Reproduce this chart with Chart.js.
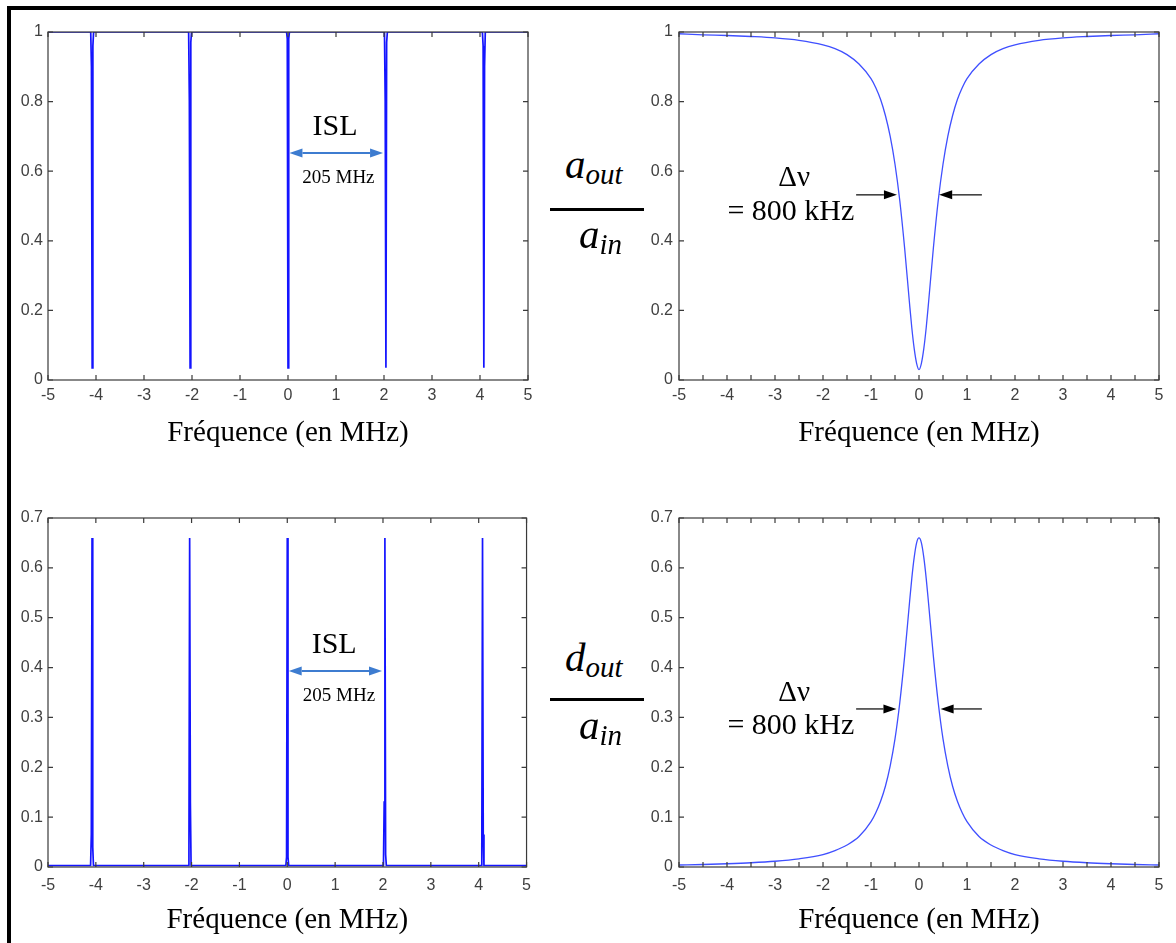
<!DOCTYPE html>
<html>
<head>
<meta charset="utf-8">
<script src="https://cdn.jsdelivr.net/npm/chart.js@4.4.0/dist/chart.umd.min.js"></script>
<style>
  html, body { margin: 0; padding: 0; background: #fff; }
  body { width: 1176px; height: 943px; position: relative; overflow: hidden; }
  .frame { position: absolute; left: 7px; top: 6px; right: -10px; bottom: -10px;
           border-top: 4px solid #000; border-left: 4px solid #000; }
  canvas { position: absolute; }
  .ratio { position: absolute; font: italic 41px/40px "Liberation Serif", serif; color: #000; white-space: nowrap; }
  .ratio sub { font-size: 29px; vertical-align: -6px; line-height: 0; }
  .bar { position: absolute; left: 550px; width: 94px; height: 3px; background: #000; }
</style>
</head>
<body>
<div class="frame"></div>

<canvas id="thruComb" width="540" height="451" style="left:0;top:0"></canvas>
<canvas id="thruZoom" width="546" height="451" style="left:630px;top:0"></canvas>
<canvas id="dropComb" width="540" height="452" style="left:0;top:486px"></canvas>
<canvas id="dropZoom" width="546" height="452" style="left:630px;top:486px"></canvas>

<div class="ratio" style="left:565px;top:144px">a<sub>out</sub></div>
<div class="bar" style="top:208px"></div>
<div class="ratio" style="left:579px;top:214px">a<sub>in</sub></div>

<div class="ratio" style="left:565px;top:637px">d<sub>out</sub></div>
<div class="bar" style="top:698px"></div>
<div class="ratio" style="left:579px;top:705px">a<sub>in</sub></div>

<script>
// Comb (left plots): frequency in MHz
const combFreq = [-5, -4.11, -4.095, -4.08, -4.065, -4.05,
  -2.07, -2.055, -2.04, -2.025, -2.01,
  -0.03, -0.015, 0, 0.015, 0.03,
  2.01, 2.025, 2.04, 2.055, 2.07,
  4.05, 4.065, 4.08, 4.095, 4.11, 5];
const combThru = [1, 1, 0.9, 0.035, 0.96, 1,
  1, 0.8, 0.035, 0.97, 1,
  1, 0.98, 0.035, 0.98, 1,
  1, 0.8, 0.035, 0.97, 1,
  1, 0.96, 0.035, 0.9, 1, 1];
const combDrop = [0.003, 0.003, 0.065, 0.66, 0.04, 0.003,
  0.003, 0.03, 0.66, 0.13, 0.003,
  0.003, 0.02, 0.66, 0.02, 0.003,
  0.003, 0.13, 0.66, 0.025, 0.003,
  0.003, 0.04, 0.66, 0.065, 0.003, 0.003];

// Single resonance (right plots)
const zoomFreq = [-5, -4.5, -4, -3.5, -3, -2.5, -2, -1.75, -1.5, -1.25, -1, -0.9, -0.8, -0.7, -0.6,
  -0.5, -0.4, -0.3, -0.2, -0.15, -0.1, -0.05, 0, 0.05, 0.1, 0.15, 0.2, 0.3, 0.4, 0.5,
  0.6, 0.7, 0.8, 0.9, 1, 1.25, 1.5, 1.75, 2, 2.5, 3, 3.5, 4, 4.5, 5];
const zoomThru = [0.995, 0.992, 0.99, 0.987, 0.983, 0.976, 0.963, 0.952, 0.935, 0.908, 0.866, 0.84, 0.806, 0.76, 0.70,
  0.62, 0.515, 0.38, 0.224, 0.15, 0.09, 0.048, 0.03, 0.048, 0.09, 0.15, 0.224, 0.38, 0.515, 0.62,
  0.70, 0.76, 0.806, 0.84, 0.866, 0.908, 0.935, 0.952, 0.963, 0.976, 0.983, 0.987, 0.99, 0.992, 0.995];
const zoomDrop = [0.004, 0.005, 0.0065, 0.0085, 0.0115, 0.0165, 0.025, 0.033, 0.044, 0.061, 0.091, 0.109, 0.132, 0.162, 0.203,
  0.257, 0.33, 0.422, 0.528, 0.579, 0.621, 0.65, 0.66, 0.65, 0.621, 0.579, 0.528, 0.422, 0.33, 0.257,
  0.203, 0.162, 0.132, 0.109, 0.091, 0.061, 0.044, 0.033, 0.025, 0.0165, 0.0115, 0.0085, 0.0065, 0.005, 0.004];

const xTitle = 'Fréquence (en MHz)';

// Box around the plot area with inward ticks on all four sides (MATLAB look)
const boxPlugin = {
  id: 'box',
  afterDraw(chart) {
    const { ctx, chartArea: a, scales: { x, y } } = chart;
    ctx.save();
    ctx.strokeStyle = '#3a3a3a';
    ctx.lineWidth = 1.2;
    ctx.beginPath();
    x.ticks.forEach(t => {
      const px = x.getPixelForValue(t.value);
      ctx.moveTo(px, a.bottom); ctx.lineTo(px, a.bottom - 5);
      ctx.moveTo(px, a.top); ctx.lineTo(px, a.top + 5);
    });
    y.ticks.forEach(t => {
      const py = y.getPixelForValue(t.value);
      ctx.moveTo(a.left, py); ctx.lineTo(a.left + 5, py);
      ctx.moveTo(a.right, py); ctx.lineTo(a.right - 5, py);
    });
    ctx.stroke();
    ctx.strokeRect(a.left, a.top, a.right - a.left, a.bottom - a.top);
    ctx.restore();
  }
};

function drawArrow(ctx, x0, x1, y, color, width, head, halfH, both) {
  ctx.strokeStyle = color;
  ctx.fillStyle = color;
  ctx.lineWidth = width;
  const dir = x1 > x0 ? 1 : -1;
  ctx.beginPath();
  ctx.moveTo(x0 + (both ? dir * head : 0), y);
  ctx.lineTo(x1 - dir * head, y);
  ctx.stroke();
  ctx.beginPath();
  ctx.moveTo(x1, y); ctx.lineTo(x1 - dir * head, y - halfH); ctx.lineTo(x1 - dir * head, y + halfH);
  ctx.closePath(); ctx.fill();
  if (both) {
    ctx.beginPath();
    ctx.moveTo(x0, y); ctx.lineTo(x0 + dir * head, y - halfH); ctx.lineTo(x0 + dir * head, y + halfH);
    ctx.closePath(); ctx.fill();
  }
}

// Text and arrow annotations, placed in data coordinates
const notesPlugin = {
  id: 'notes',
  afterDatasetsDraw(chart, args, opts) {
    const { ctx, scales: { x, y } } = chart;
    ctx.save();
    (opts.texts || []).forEach(t => {
      ctx.font = t.size + 'px "Liberation Serif", serif';
      ctx.fillStyle = '#000';
      ctx.textAlign = 'center';
      ctx.textBaseline = 'middle';
      ctx.fillText(t.text, x.getPixelForValue(t.x), y.getPixelForValue(t.y));
    });
    (opts.arrows || []).forEach(ar => {
      drawArrow(ctx, x.getPixelForValue(ar.from), x.getPixelForValue(ar.to), y.getPixelForValue(ar.y),
        ar.color, ar.width, ar.head, ar.halfH, ar.both);
    });
    ctx.restore();
  }
};

function makeChart(id, freq, values, cfg) {
  const points = freq.map((f, i) => ({ x: f, y: values[i] }));
  return new Chart(document.getElementById(id), {
    type: 'line',
    data: {
      datasets: [{
        data: points,
        borderColor: cfg.color,
        borderWidth: cfg.lineWidth,
        pointRadius: 0,
        tension: 0,
        cubicInterpolationMode: cfg.smooth ? 'monotone' : 'default',
        fill: false
      }]
    },
    options: {
      responsive: false,
      animation: false,
      layout: { padding: { top: 32, right: cfg.padRight, left: 0, bottom: 0 } },
      plugins: {
        legend: { display: false },
        tooltip: { enabled: false },
        notes: cfg.notes
      },
      scales: {
        x: {
          type: 'linear',
          min: -5,
          max: 5,
          afterFit: s => { s.height = 71; },
          grid: { display: false, drawTicks: false },
          border: { display: false },
          ticks: {
            stepSize: cfg.xStep,
            autoSkip: false,
            maxRotation: 0,
            padding: cfg.xPad,
            color: '#404040',
            font: { family: 'Liberation Sans', size: 16 },
            callback: v => Number.isInteger(v) ? String(v) : ''
          },
          title: {
            display: true,
            text: xTitle,
            color: '#000',
            padding: 0,
            font: { family: 'Liberation Serif', size: 29 }
          }
        },
        y: {
          min: 0,
          max: cfg.yMax,
          afterFit: s => { s.width = cfg.yWidth; },
          grid: { display: false, drawTicks: false },
          border: { display: false },
          ticks: {
            stepSize: cfg.yStep,
            padding: cfg.yPad,
            color: '#404040',
            font: { family: 'Liberation Sans', size: 16 },
            callback: v => String(+v.toFixed(2))
          }
        }
      }
    },
    plugins: [boxPlugin, notesPlugin]
  });
}

const islBlue = '#3d7cd0';

makeChart('thruComb', combFreq, combThru, {
  color: '#1414ff', lineWidth: 1.7, smooth: false, padRight: 12, yWidth: 48,
  xStep: 1, xPad: 6, yMax: 1, yStep: 0.2, yPad: 5,
  notes: {
    texts: [{ text: 'ISL', x: 0.98, y: 0.727, size: 30 }, { text: '205 MHz', x: 1.05, y: 0.58, size: 19 }],
    arrows: [{ from: 0.03, to: 1.98, y: 0.652, color: islBlue, width: 2, head: 13, halfH: 4.5, both: true }]
  }
});

makeChart('thruZoom', zoomFreq, zoomThru, {
  color: '#3f4fff', lineWidth: 1.3, smooth: true, padRight: 17, yWidth: 49,
  xStep: 0.5, xPad: 6, yMax: 1, yStep: 0.2, yPad: 6,
  notes: {
    texts: [{ text: 'Δν', x: -2.6, y: 0.58, size: 29 }, { text: '= 800 kHz', x: -2.67, y: 0.483, size: 30 }],
    arrows: [
      { from: -1.31, to: -0.46, y: 0.532, color: '#000', width: 1.2, head: 13, halfH: 4.5, both: false },
      { from: 1.31, to: 0.42, y: 0.532, color: '#000', width: 1.2, head: 13, halfH: 4.5, both: false }
    ]
  }
});

makeChart('dropComb', combFreq, combDrop, {
  color: '#1414ff', lineWidth: 1.7, smooth: false, padRight: 12, yWidth: 48,
  xStep: 1, xPad: 9, yMax: 0.7, yStep: 0.1, yPad: 5,
  notes: {
    texts: [{ text: 'ISL', x: 0.98, y: 0.445, size: 30 }, { text: '205 MHz', x: 1.08, y: 0.343, size: 19 }],
    arrows: [{ from: 0.03, to: 1.98, y: 0.393, color: islBlue, width: 2, head: 13, halfH: 4.5, both: true }]
  }
});

makeChart('dropZoom', zoomFreq, zoomDrop, {
  color: '#3f4fff', lineWidth: 1.3, smooth: true, padRight: 17, yWidth: 49,
  xStep: 0.5, xPad: 9, yMax: 0.7, yStep: 0.1, yPad: 6,
  notes: {
    texts: [{ text: 'Δν', x: -2.6, y: 0.349, size: 29 }, { text: '= 800 kHz', x: -2.67, y: 0.283, size: 30 }],
    arrows: [
      { from: -1.31, to: -0.47, y: 0.317, color: '#000', width: 1.2, head: 13, halfH: 4.5, both: false },
      { from: 1.31, to: 0.45, y: 0.317, color: '#000', width: 1.2, head: 13, halfH: 4.5, both: false }
    ]
  }
});
</script>
</body>
</html>
